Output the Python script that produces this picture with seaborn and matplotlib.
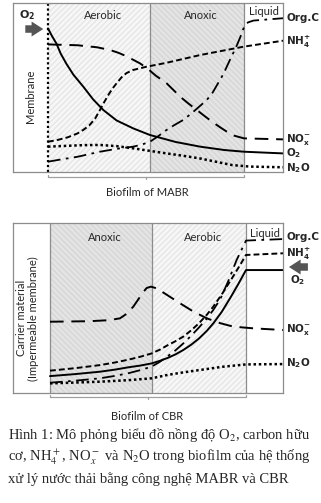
import matplotlib
matplotlib.use("Agg")
import matplotlib.pyplot as plt
import seaborn as sns
import numpy as np

sns.set_theme(style="white")
plt.rcParams['font.family'] = ['Lato', 'DejaVu Sans']
plt.rcParams['mathtext.fontset'] = 'dejavusans'

# ---------------- data (position across biofilm 0..1, concentration 0..100) -------------
top_o2_x = [0, 0.02, 0.043, 0.065, 0.094, 0.13, 0.18, 0.23, 0.282, 0.35, 0.435, 0.52, 0.65, 0.776, 0.9, 1.0, 1.2]
top_o2_y = [85, 80.5, 76, 70, 64, 57.5, 50.5, 43, 36.7, 30.5, 25.8, 21.9, 17.8, 15, 13, 12, 11]
top_nh4_x = [0, 0.05, 0.1, 0.15, 0.18, 0.21, 0.24, 0.265, 0.29, 0.31, 0.33, 0.35, 0.375, 0.40, 0.435,
             0.503, 0.6, 0.776, 1.0, 1.2]
top_nh4_y = [17.9, 19, 20.5, 22.8, 24.9, 27.5, 31.5, 36.7, 42, 46, 49.5, 52.5, 56, 58.5, 60.4,
             62.3, 64.5, 69.2, 74.2, 77.7]
top_nox_x = [0, 0.15, 0.25, 0.316, 0.36, 0.40, 0.469, 0.51, 0.55, 0.605, 0.64, 0.68, 0.72, 0.759,
             0.80, 0.84, 0.88, 0.912, 0.95, 1.0, 1.2]
top_nox_y = [75.5, 75, 73.8, 72.2, 70.5, 68.5, 64.3, 61, 57, 52.5, 48.5, 44, 40.2, 36.7,
             33, 29.5, 26.3, 23.9, 21.5, 19.9, 19.3]
top_orgc_x = [0, 0.08, 0.15, 0.265, 0.35, 0.435, 0.48, 0.52, 0.56, 0.60, 0.645, 0.69, 0.73, 0.76,
              0.81, 0.84, 0.87, 0.895, 0.912, 0.935, 0.96, 0.98, 1.0, 1.02, 1.048, 1.2]
top_orgc_y = [6.1, 7.7, 9, 12, 13.7, 15, 16.3, 17.9, 21, 24.5, 27.8, 30.8, 34.5, 37.5,
              42.6, 47, 53, 58, 62.3, 68, 74, 79.5, 85.8, 88.5, 89.6, 91]
top_n2o_x = [0, 0.1, 0.18, 0.265, 0.35, 0.435, 0.52, 0.605, 0.69, 0.776, 0.86, 0.94, 1.03, 1.2]
top_n2o_y = [15, 15.5, 15.9, 16, 15.3, 14, 12.5, 11, 9.6, 8, 6, 4.1, 3.2, 2.8]

bot_o2_x = [0, 0.13, 0.255, 0.33, 0.40, 0.46, 0.519, 0.56, 0.60, 0.64, 0.68, 0.72, 0.76, 0.80,
            0.833, 0.875, 0.92, 0.96, 1.0, 1.19]
bot_o2_y = [9.8, 11, 12.4, 13.6, 15, 16, 17.3, 18.8, 20.5, 22.6, 25.2, 28.3, 32, 36.5,
            40.9, 47.5, 56, 64, 72.4, 72.4]
bot_nh4_x = [0, 0.13, 0.255, 0.33, 0.40, 0.46, 0.519, 0.56, 0.60, 0.64, 0.68, 0.72, 0.76, 0.80,
             0.833, 0.875, 0.92, 0.96, 1.0, 1.19]
bot_nh4_y = [13, 14.5, 16.3, 17.8, 19.5, 21.2, 23.2, 25.4, 28, 30.4, 33.1, 36.8, 41, 46,
             50.8, 57.8, 66, 73.5, 81.3, 82.3]
bot_orgc_x = [0, 0.13, 0.255, 0.33, 0.40, 0.46, 0.519, 0.56, 0.60, 0.64, 0.68, 0.72, 0.76, 0.80,
              0.833, 0.87, 0.91, 0.952, 1.0, 1.19]
bot_orgc_y = [5.9, 7.1, 8.5, 9.9, 11.5, 13.3, 15.4, 18.2, 21.5, 25, 29.1, 33.6, 38.5, 43.8,
              48.8, 55.5, 66, 78.3, 89.8, 90.7]
bot_nox_x = [0, 0.2, 0.3, 0.357, 0.39, 0.425, 0.45, 0.47, 0.493, 0.515, 0.544, 0.6, 0.663, 0.73,
             0.8, 0.87, 0.935, 1.037, 1.19]
bot_nox_y = [41.9, 42.2, 42.8, 43.9, 46.5, 50.8, 55, 58.5, 61.8, 62.6, 61.6, 57.5, 52.8, 48,
             43.9, 41, 39, 38, 37]
bot_n2o_x = [0, 0.13, 0.255, 0.4, 0.519, 0.6, 0.68, 0.765, 0.88, 1.0, 1.19]
bot_n2o_y = [5.5, 6, 6.5, 7.4, 8.5, 10.5, 12, 13.4, 15.3, 16.7, 16.9]

styles = {
    'O2':   dict(lw=1.4, ls='-'),
    'NH4':  dict(lw=1.4, ls=(0, (3, 1.6))),
    'NOx':  dict(lw=1.4, ls=(0, (7, 4))),
    'OrgC': dict(lw=1.3, ls=(0, (7, 3, 1.5, 3))),
    'N2O':  dict(lw=1.8, ls=(0, (1, 1.1))),
}

W, H = 321, 503
fig = plt.figure(figsize=(W / 100, H / 100), dpi=100)
fig.patch.set_facecolor('white')

def fx(px):
    return px / W

def fy(py):
    return 1 - py / H

def make_ax(x0, x1, y0, y1, bio0, bio1):
    ax = fig.add_axes([fx(x0), fy(y1), fx(x1 - x0), (y1 - y0) / H])
    scale = bio1 - bio0
    ax.set_xlim((x0 - bio0) / scale, (x1 - bio0) / scale)
    ax.set_ylim(0, 100)
    ax.set_xticks([])
    ax.set_yticks([])
    for s in ax.spines.values():
        s.set_color('#8c8c8c')
        s.set_linewidth(0.9)
    return ax

def draw_curves(ax, series):
    for name, xs, ys in series:
        st = styles[name]
        sns.lineplot(x=xs, y=ys, ax=ax, color='black', linewidth=st['lw'],
                     linestyle=st['ls'], legend=False)

def aerobic_span(ax, a, b):
    ax.axvspan(a, b, facecolor='#f7f7f7', edgecolor='#e6e6e6', hatch='//////', lw=0, zorder=0)

def anoxic_span(ax, a, b):
    ax.axvspan(a, b, facecolor='#e4e4e4', edgecolor='#d6d6d6', hatch='\\\\\\\\\\\\', lw=0, zorder=0)

# ---------------- top panel (MABR) -------------
ax1 = make_ax(13, 283, 3, 172, 48, 244)
aerobic_span(ax1, 0, 0.52)
anoxic_span(ax1, 0.52, 1.0)
ax1.axvline(0.52, color='#8c8c8c', lw=0.9)
ax1.axvline(1.0, color='#8c8c8c', lw=0.9)
ax1.axvline(0.0, color='black', lw=1.6, ls=(0, (1, 1.2)))
draw_curves(ax1, [
    ('O2', top_o2_x, top_o2_y), ('NH4', top_nh4_x, top_nh4_y),
    ('NOx', top_nox_x, top_nox_y), ('OrgC', top_orgc_x, top_orgc_y),
    ('N2O', top_n2o_x, top_n2o_y)])

fs = 8
ax1.text(0.28, 96, 'Aerobic', ha='center', va='top', fontsize=fs)
ax1.text(0.78, 96, 'Anoxic', ha='center', va='top', fontsize=fs)
ax1.text(1.1, 98, 'Liquid', ha='center', va='top', fontsize=fs)
ax1.text(-0.09, 45, 'Membrane', rotation=90, ha='center', va='center', fontsize=fs)
ax1.text(-0.105, 93, r'$\mathbf{O_2}$', ha='center', va='center', fontsize=8)
ax1.annotate('', xy=(-0.01, 84.6), xytext=(-0.13, 84.6),
             arrowprops=dict(arrowstyle='simple,head_width=0.9,head_length=0.7,tail_width=0.45',
                             color='#555555', lw=0))

lab = dict(fontsize=7.5, fontweight='bold', ha='left', va='center', clip_on=False,
           family='DejaVu Sans')
ax1.text(1.215, 91, 'Org.C', **lab)
ax1.text(1.215, 77, r'NH$_\mathbf{4}^\mathbf{+}$', **lab)
ax1.text(1.215, 19.5, r'NO$_\mathbf{x}^\mathbf{-}$', **lab)
ax1.text(1.215, 11, r'O$_\mathbf{2}$', **lab)
ax1.text(1.215, 2.5, r'N$_\mathbf{2}$O', **lab)

# bracket
br = dict(color='#a0a0a0', lw=0.9, clip_on=False)
ax1.plot([0, 1], [-3, -3], **br)
ax1.plot([0, 0], [-3, -1.5], **br)
ax1.plot([1, 1], [-3, -1.5], **br)
ax1.plot([0.5, 0.5], [-3, -4.3], **br)
fig.text(fx(147), fy(193), 'Biofilm of MABR', ha='center', va='center', fontsize=fs)

# ---------------- bottom panel (CBR) -------------
ax2 = make_ax(13, 283, 223.3, 392.7, 50, 246)
anoxic_span(ax2, 0, 0.518)
aerobic_span(ax2, 0.518, 1.0)
ax2.axvline(0.0, color='#8c8c8c', lw=0.9)
ax2.axvline(0.518, color='#8c8c8c', lw=0.9)
ax2.axvline(1.0, color='#8c8c8c', lw=0.9)
draw_curves(ax2, [
    ('O2', bot_o2_x, bot_o2_y), ('NH4', bot_nh4_x, bot_nh4_y),
    ('NOx', bot_nox_x, bot_nox_y), ('OrgC', bot_orgc_x, bot_orgc_y),
    ('N2O', bot_n2o_x, bot_n2o_y)])

ax2.text(0.28, 95, 'Anoxic', ha='center', va='top', fontsize=fs)
ax2.text(0.78, 95, 'Aerobic', ha='center', va='top', fontsize=fs)
ax2.text(1.095, 97, 'Liquid', ha='center', va='top', fontsize=fs)
ax2.text(-0.115, 44, 'Carrier material\n(Impermeable membrane)', rotation=90,
         ha='center', va='center', fontsize=fs, linespacing=1.1)

ax2.text(1.205, 92, 'Org.C', **lab)
ax2.text(1.205, 82, r'NH$_\mathbf{4}^\mathbf{+}$', **lab)
ax2.text(1.225, 66.5, r'O$_\mathbf{2}$', **lab)
ax2.text(1.205, 37.5, r'NO$_\mathbf{x}^\mathbf{-}$', **lab)
ax2.text(1.205, 17.2, r'N$_\mathbf{2}$O', **lab)
ax2.annotate('', xy=(1.205, 74.2), xytext=(1.33, 74.2),
             arrowprops=dict(arrowstyle='simple,head_width=0.9,head_length=0.7,tail_width=0.45',
                             color='#555555', lw=0), annotation_clip=False)

ax2.plot([0, 1], [-2.7, -2.7], **br)
ax2.plot([0, 0], [-2.7, -1.2], **br)
ax2.plot([1, 1], [-2.7, -1.2], **br)
ax2.plot([0.5, 0.5], [-2.7, -4.0], **br)
fig.text(fx(147), fy(416), 'Biofilm of CBR', ha='center', va='center', fontsize=fs)

# ---------------- caption -------------
cap = dict(fontsize=10.5, family='Liberation Serif', ha='left', va='center',
           math_fontfamily='stix')
fig.text(fx(8), fy(435), r'Hình 1: Mô phỏng biểu đồ nồng độ O$_2$, carbon hữu', **cap)
fig.text(fx(8), fy(457), r'cơ, NH$_4^+$, NO$_x^-$ và N$_2$O trong biofilm của hệ thống', **cap)
fig.text(fx(8), fy(479), 'xử lý nước thải bằng công nghệ MABR và CBR', **cap)

fig.savefig('out.png', dpi=100, facecolor='white')
